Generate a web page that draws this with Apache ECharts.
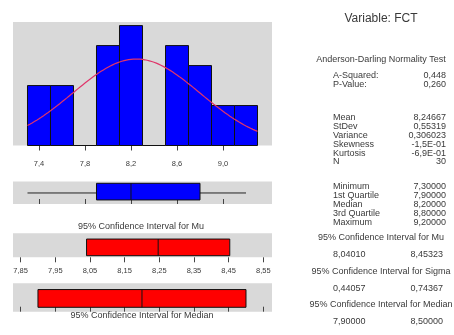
<!DOCTYPE html>
<html>
<head>
<meta charset="utf-8">
<script src="https://cdn.jsdelivr.net/npm/echarts@6/dist/echarts.min.js"></script>
<style>
html, body { margin: 0; padding: 0; background: #ffffff; }
#chart { width: 454px; height: 335px; }
</style>
</head>
<body>
<div id="chart"></div>
<script>
// Histogram of FCT (bin centres and counts, bin width 0.2)
const binCenters = [7.4, 7.6, 7.8, 8.0, 8.2, 8.4, 8.6, 8.8, 9.0, 9.2];
const binCounts  = [3, 3, 0, 5, 6, 0, 5, 4, 2, 2];
const binWidth = 0.2;
const histTicks = [7.4, 7.8, 8.2, 8.6, 9.0];

// Five-number summary: min, Q1, median, Q3, max
const fiveNumber = [7.3, 7.9, 8.2, 8.8, 9.2];

// Confidence intervals
const muInterval = [8.04010, 8.45323];
const medianInterval = [7.90000, 8.50000];
const ciTicks = [7.85, 7.95, 8.05, 8.15, 8.25, 8.35, 8.45, 8.55];

// Summary statistics
const sampleMean = 8.24667;
const sampleSD = 0.55319;
const sampleN = 30;

const adLabels = ['A-Squared:', 'P-Value:'];
const adValues = ['0,448', '0,260'];
const momentLabels = ['Mean', 'StDev', 'Variance', 'Skewness', 'Kurtosis', 'N'];
const momentValues = ['8,24667', '0,55319', '0,306023', '-1,5E-01', '-6,9E-01', '30'];
const quantileLabels = ['Minimum', '1st Quartile', 'Median', '3rd Quartile', 'Maximum'];
const quantileValues = ['7,30000', '7,90000', '8,20000', '8,80000', '9,20000'];
const ciTitles = ['95% Confidence Interval for Mu', '95% Confidence Interval for Sigma', '95% Confidence Interval for Median'];
const ciLow  = ['8,04010', '0,44057', '7,90000'];
const ciHigh = ['8,45323', '0,74367', '8,50000'];

// Fitted normal density scaled to the histogram counts
function normalCount(x) {
  const z = (x - sampleMean) / sampleSD;
  return sampleN * binWidth * Math.exp(-0.5 * z * z) / (sampleSD * Math.sqrt(2 * Math.PI));
}
const curveX = [];
for (let i = 0; i <= 100; i++) curveX.push(7.3 + i * 0.02);
const curvePoints = curveX.map(x => [x, normalCount(x)]);

const FONT = 'Liberation Sans, Arial, sans-serif';
const TEXT = '#3a3a3a';
const PANEL = '#d9d9d9';
const comma = d => v => v.toFixed(d).replace('.', ',');

const histRange = [7.174, 9.426];
const ciRange = [7.828, 8.575];

// Horizontal box drawn between fractional heights lo..hi of its grid
function boxRenderer(lo, hi, fill, whiskers) {
  return function (params, api) {
    const q1 = api.value(1), med = api.value(2), q3 = api.value(3);
    const a = api.coord([q1, hi]);
    const b = api.coord([q3, lo]);
    const m0 = api.coord([med, hi]);
    const m1 = api.coord([med, lo]);
    const children = [];
    if (whiskers) {
      const mid = (lo + hi) / 2 - 0.06;
      const w0 = api.coord([api.value(0), mid]);
      const w1 = api.coord([api.value(4), mid]);
      children.push({ type: 'line', shape: { x1: w0[0], y1: w0[1], x2: w1[0], y2: w1[1] },
        style: { stroke: '#222', lineWidth: 1 } });
    }
    children.push({ type: 'rect', shape: { x: a[0], y: a[1], width: b[0] - a[0], height: b[1] - a[1] },
      style: { fill: fill, stroke: '#111', lineWidth: 1 } });
    children.push({ type: 'line', shape: { x1: m0[0], y1: m0[1], x2: m1[0], y2: m1[1] },
      style: { stroke: '#111', lineWidth: 1 } });
    return { type: 'group', children: children };
  };
}

function text(x, y, str, align, size) {
  return {
    type: 'text', x: x, y: y,
    style: { text: str, font: (size || 9) + 'px ' + FONT, fill: TEXT, align: align || 'left', verticalAlign: 'middle' }
  };
}

// Right-hand statistics column
const graphics = [];
const colCenter = 381, colLeft = 333, colRight = 446;
graphics.push(text(colCenter, 19, 'Variable: FCT', 'center', 12));
graphics.push(text(colCenter, 60, 'Anderson-Darling Normality Test', 'center'));
const rowStep = 8.8;
function pair(y, lab, val) {
  graphics.push(text(colLeft, y, lab));
  graphics.push(text(colRight, y, val, 'right'));
}
adLabels.forEach((l, i) => pair(76 + i * rowStep, l, adValues[i]));
momentLabels.forEach((l, i) => pair(118 + i * rowStep, l, momentValues[i]));
quantileLabels.forEach((l, i) => pair(187 + i * rowStep, l, quantileValues[i]));
ciTitles.forEach((t, i) => {
  const y = 238 + i * 33.5;
  graphics.push(text(colCenter, y, t, 'center'));
  graphics.push(text(colLeft, y + 16.8, ciLow[i]));
  graphics.push(text(colRight - 3, y + 16.8, ciHigh[i], 'right'));
});
// Captions for the interval panels on the left
graphics.push(text(141, 227, ciTitles[0], 'center'));
graphics.push(text(142, 316, ciTitles[2], 'center'));

const tickStyle = { color: '#444', width: 1 };
const labelStyle = { fontSize: 7.5, fontFamily: FONT, color: TEXT };

const option = {
  animation: false,
  backgroundColor: '#ffffff',
  grid: [
    { left: 13, top: 22, width: 259, height: 123.5, show: true, backgroundColor: PANEL, borderWidth: 0 },
    { left: 13, top: 181.5, width: 259, height: 22.5, show: true, backgroundColor: PANEL, borderWidth: 0 },
    { left: 13, top: 233.3, width: 259, height: 24, show: true, backgroundColor: PANEL, borderWidth: 0 },
    { left: 13, top: 283.3, width: 259, height: 28.4, show: true, backgroundColor: PANEL, borderWidth: 0 }
  ],
  xAxis: [
    { gridIndex: 0, type: 'value', min: histRange[0], max: histRange[1], position: 'bottom', offset: 6,
      axisLine: { show: false }, splitLine: { show: false },
      axisTick: { show: true, length: 5, customValues: histTicks, lineStyle: tickStyle },
      axisLabel: Object.assign({ customValues: histTicks, margin: 8, formatter: comma(1) }, labelStyle) },
    { gridIndex: 1, type: 'value', min: histRange[0], max: histRange[1], position: 'top', offset: 5,
      axisLine: { show: false }, splitLine: { show: false },
      axisTick: { show: true, length: 5, customValues: histTicks, lineStyle: tickStyle },
      axisLabel: { show: false } },
    { gridIndex: 2, type: 'value', min: ciRange[0], max: ciRange[1], position: 'bottom', offset: 3,
      axisLine: { show: false }, splitLine: { show: false },
      axisTick: { show: true, length: 5, customValues: ciTicks, lineStyle: tickStyle },
      axisLabel: Object.assign({ customValues: ciTicks, margin: 7, formatter: comma(2) }, labelStyle) },
    { gridIndex: 3, type: 'value', min: ciRange[0], max: ciRange[1], position: 'top', offset: 0,
      axisLine: { show: false }, splitLine: { show: false },
      axisTick: { show: true, length: 5, customValues: ciTicks, lineStyle: tickStyle },
      axisLabel: { show: false } }
  ],
  yAxis: [
    { gridIndex: 0, type: 'value', min: 0, max: 6.18, show: false },
    { gridIndex: 1, type: 'value', min: 0, max: 1, show: false },
    { gridIndex: 2, type: 'value', min: 0, max: 1, show: false },
    { gridIndex: 3, type: 'value', min: 0, max: 1, show: false }
  ],
  series: [
    {
      type: 'custom', xAxisIndex: 0, yAxisIndex: 0, z: 2,
      data: binCenters.map((c, i) => [c, binCounts[i]]),
      renderItem: function (params, api) {
        const c = api.value(0), n = api.value(1);
        const p0 = api.coord([c - binWidth / 2, 0]);
        const p1 = api.coord([c + binWidth / 2, n]);
        return { type: 'rect', shape: { x: p0[0], y: p1[1], width: p1[0] - p0[0], height: p0[1] - p1[1] },
          style: { fill: '#0000ff', stroke: '#111', lineWidth: 1 } };
      }
    },
    {
      type: 'line', xAxisIndex: 0, yAxisIndex: 0, z: 5, data: curvePoints,
      showSymbol: false, symbol: 'none', smooth: false,
      lineStyle: { color: '#e0356a', width: 1.2 }
    },
    {
      type: 'custom', xAxisIndex: 1, yAxisIndex: 1,
      data: [fiveNumber],
      renderItem: boxRenderer(0.18, 0.92, '#0000ff', true)
    },
    {
      type: 'custom', xAxisIndex: 2, yAxisIndex: 2,
      data: [[muInterval[0], muInterval[0], sampleMean, muInterval[1], muInterval[1]]],
      renderItem: boxRenderer(0.067, 0.76, '#ff0000', false)
    },
    {
      type: 'custom', xAxisIndex: 3, yAxisIndex: 3,
      data: [[medianInterval[0], medianInterval[0], fiveNumber[2], medianInterval[1], medianInterval[1]]],
      renderItem: boxRenderer(0.155, 0.78, '#ff0000', false)
    }
  ],
  graphic: graphics
};

const chart = echarts.init(document.getElementById('chart'));
chart.setOption(option);
</script>
</body>
</html>
